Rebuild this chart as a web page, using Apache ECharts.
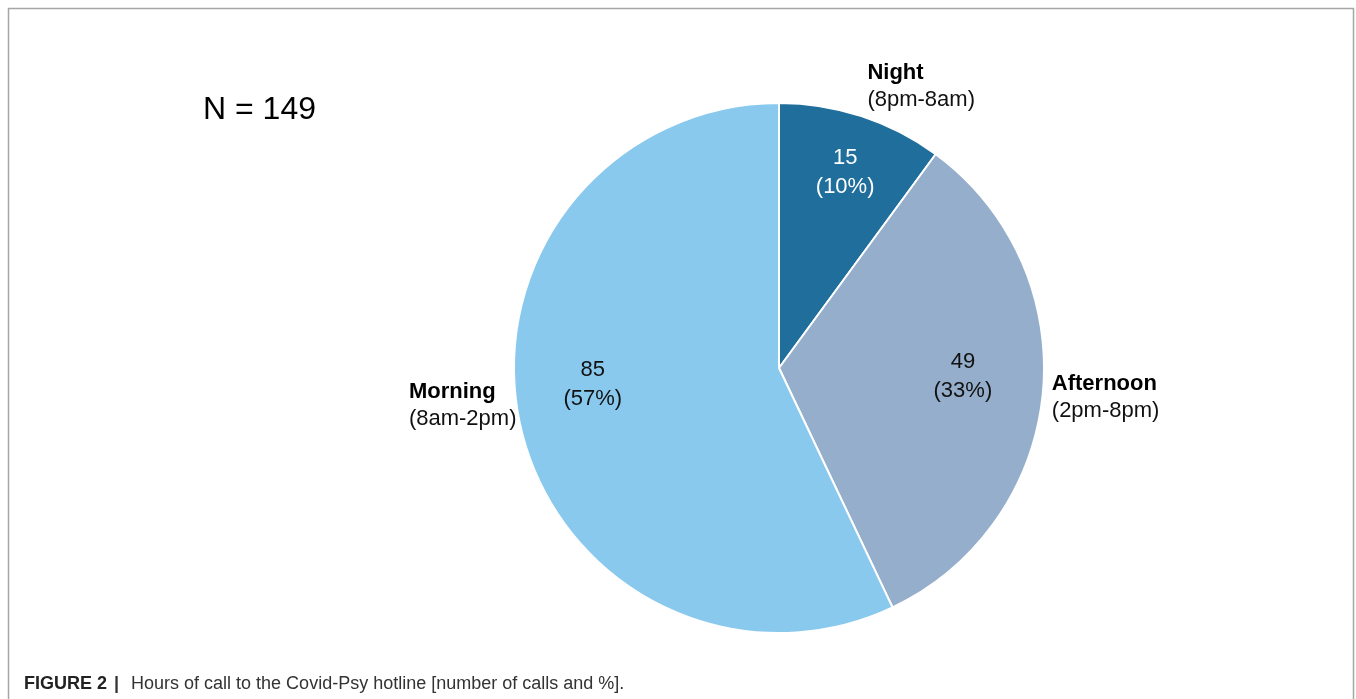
<!DOCTYPE html>
<html>
<head>
<meta charset="utf-8">
<title>Hours of call to the Covid-Psy hotline</title>
<script src="https://cdn.jsdelivr.net/npm/echarts@6/dist/echarts.min.js"></script>
<style>
  html, body { margin: 0; padding: 0; background: #ffffff; }
  #chart { width: 1356px; height: 699px; }
</style>
</head>
<body>
<div id="chart"></div>
<script>
// Calls to the hotline by time of day
var periods = ['Night', 'Afternoon', 'Morning'];
var periodHours = ['(8pm-8am)', '(2pm-8pm)', '(8am-2pm)'];
var calls = [15, 49, 85];

var sliceColors = ['#1f6e9c', '#95aecb', '#89c9ee'];
var valueTextColors = ['#ffffff', '#111111', '#111111'];

// nudges applied to the library-computed label positions
var innerNudge = [[24, -67], [49, -4], [-54, -13]];
var outerNudge = [[6, -32], [9, 2], [-4, -23]];

var FONT = '"Liberation Sans", Arial, Helvetica, sans-serif';
var total = calls.reduce(function (a, b) { return a + b; }, 0);

var sliceData = periods.map(function (name, i) {
  return {
    name: name,
    value: calls[i],
    itemStyle: { color: sliceColors[i] },
    label: { color: valueTextColors[i] }
  };
});

var nameData = periods.map(function (name, i) {
  return { name: name, value: calls[i], hours: periodHours[i] };
});

var chart = echarts.init(document.getElementById('chart'), null, { renderer: 'canvas' });

chart.setOption({
  backgroundColor: '#ffffff',
  animation: false,
  graphic: [
    {
      type: 'polyline',
      silent: true,
      shape: { points: [[8.5, 699], [8.5, 8.5], [1353.5, 8.5], [1353.5, 699]] },
      style: { stroke: '#a6a6a6', lineWidth: 1.5, fill: null }
    },
    {
      type: 'text',
      left: 203,
      top: 94,
      silent: true,
      style: {
        text: 'N = ' + total,
        font: '32px ' + FONT,
        fill: '#000000'
      }
    },
    {
      type: 'text',
      left: 24,
      top: 675,
      silent: true,
      style: {
        text: '{b|FIGURE 2}{s||}{r|Hours of call to the Covid-Psy hotline [number of calls and %].}',
        rich: {
          b: { font: 'bold 18px ' + FONT, fill: '#222222' },
          s: { font: 'bold 18px ' + FONT, fill: '#333333', padding: [0, 12, 0, 7] },
          r: { font: '18px ' + FONT, fill: '#333333' }
        }
      }
    }
  ],
  series: [
    {
      type: 'pie',
      center: [779, 368],
      radius: 265,
      startAngle: 90,
      clockwise: true,
      percentPrecision: 0,
      avoidLabelOverlap: false,
      silent: true,
      itemStyle: { borderColor: '#ffffff', borderWidth: 2 },
      label: {
        show: true,
        position: 'inside',
        formatter: '{c}\n({d}%)',
        fontFamily: FONT,
        fontSize: 22,
        lineHeight: 29
      },
      labelLine: { show: false },
      labelLayout: function (p) {
        var n = innerNudge[p.dataIndex];
        return { dx: n[0], dy: n[1] };
      },
      data: sliceData
    },
    {
      type: 'pie',
      center: [779, 368],
      radius: 265,
      startAngle: 90,
      clockwise: true,
      avoidLabelOverlap: false,
      silent: true,
      z: 3,
      itemStyle: { color: 'rgba(0,0,0,0)', borderWidth: 0 },
      label: {
        show: true,
        position: 'outside',
        distanceToLabelLine: 0,
        formatter: function (p) {
          return '{n|' + p.name + '}\n{h|' + p.data.hours + '}';
        },
        rich: {
          n: { fontFamily: FONT, fontSize: 22, fontWeight: 'bold', lineHeight: 27, color: '#000000', align: 'left' },
          h: { fontFamily: FONT, fontSize: 22, lineHeight: 27, color: '#111111', align: 'left' }
        }
      },
      labelLine: { show: false, length: 0, length2: 0 },
      labelLayout: function (p) {
        var n = outerNudge[p.dataIndex];
        return {
          x: p.labelRect.x + n[0],
          y: p.labelRect.y + n[1],
          align: 'left',
          verticalAlign: 'top'
        };
      },
      data: nameData
    }
  ]
});
</script>
</body>
</html>
